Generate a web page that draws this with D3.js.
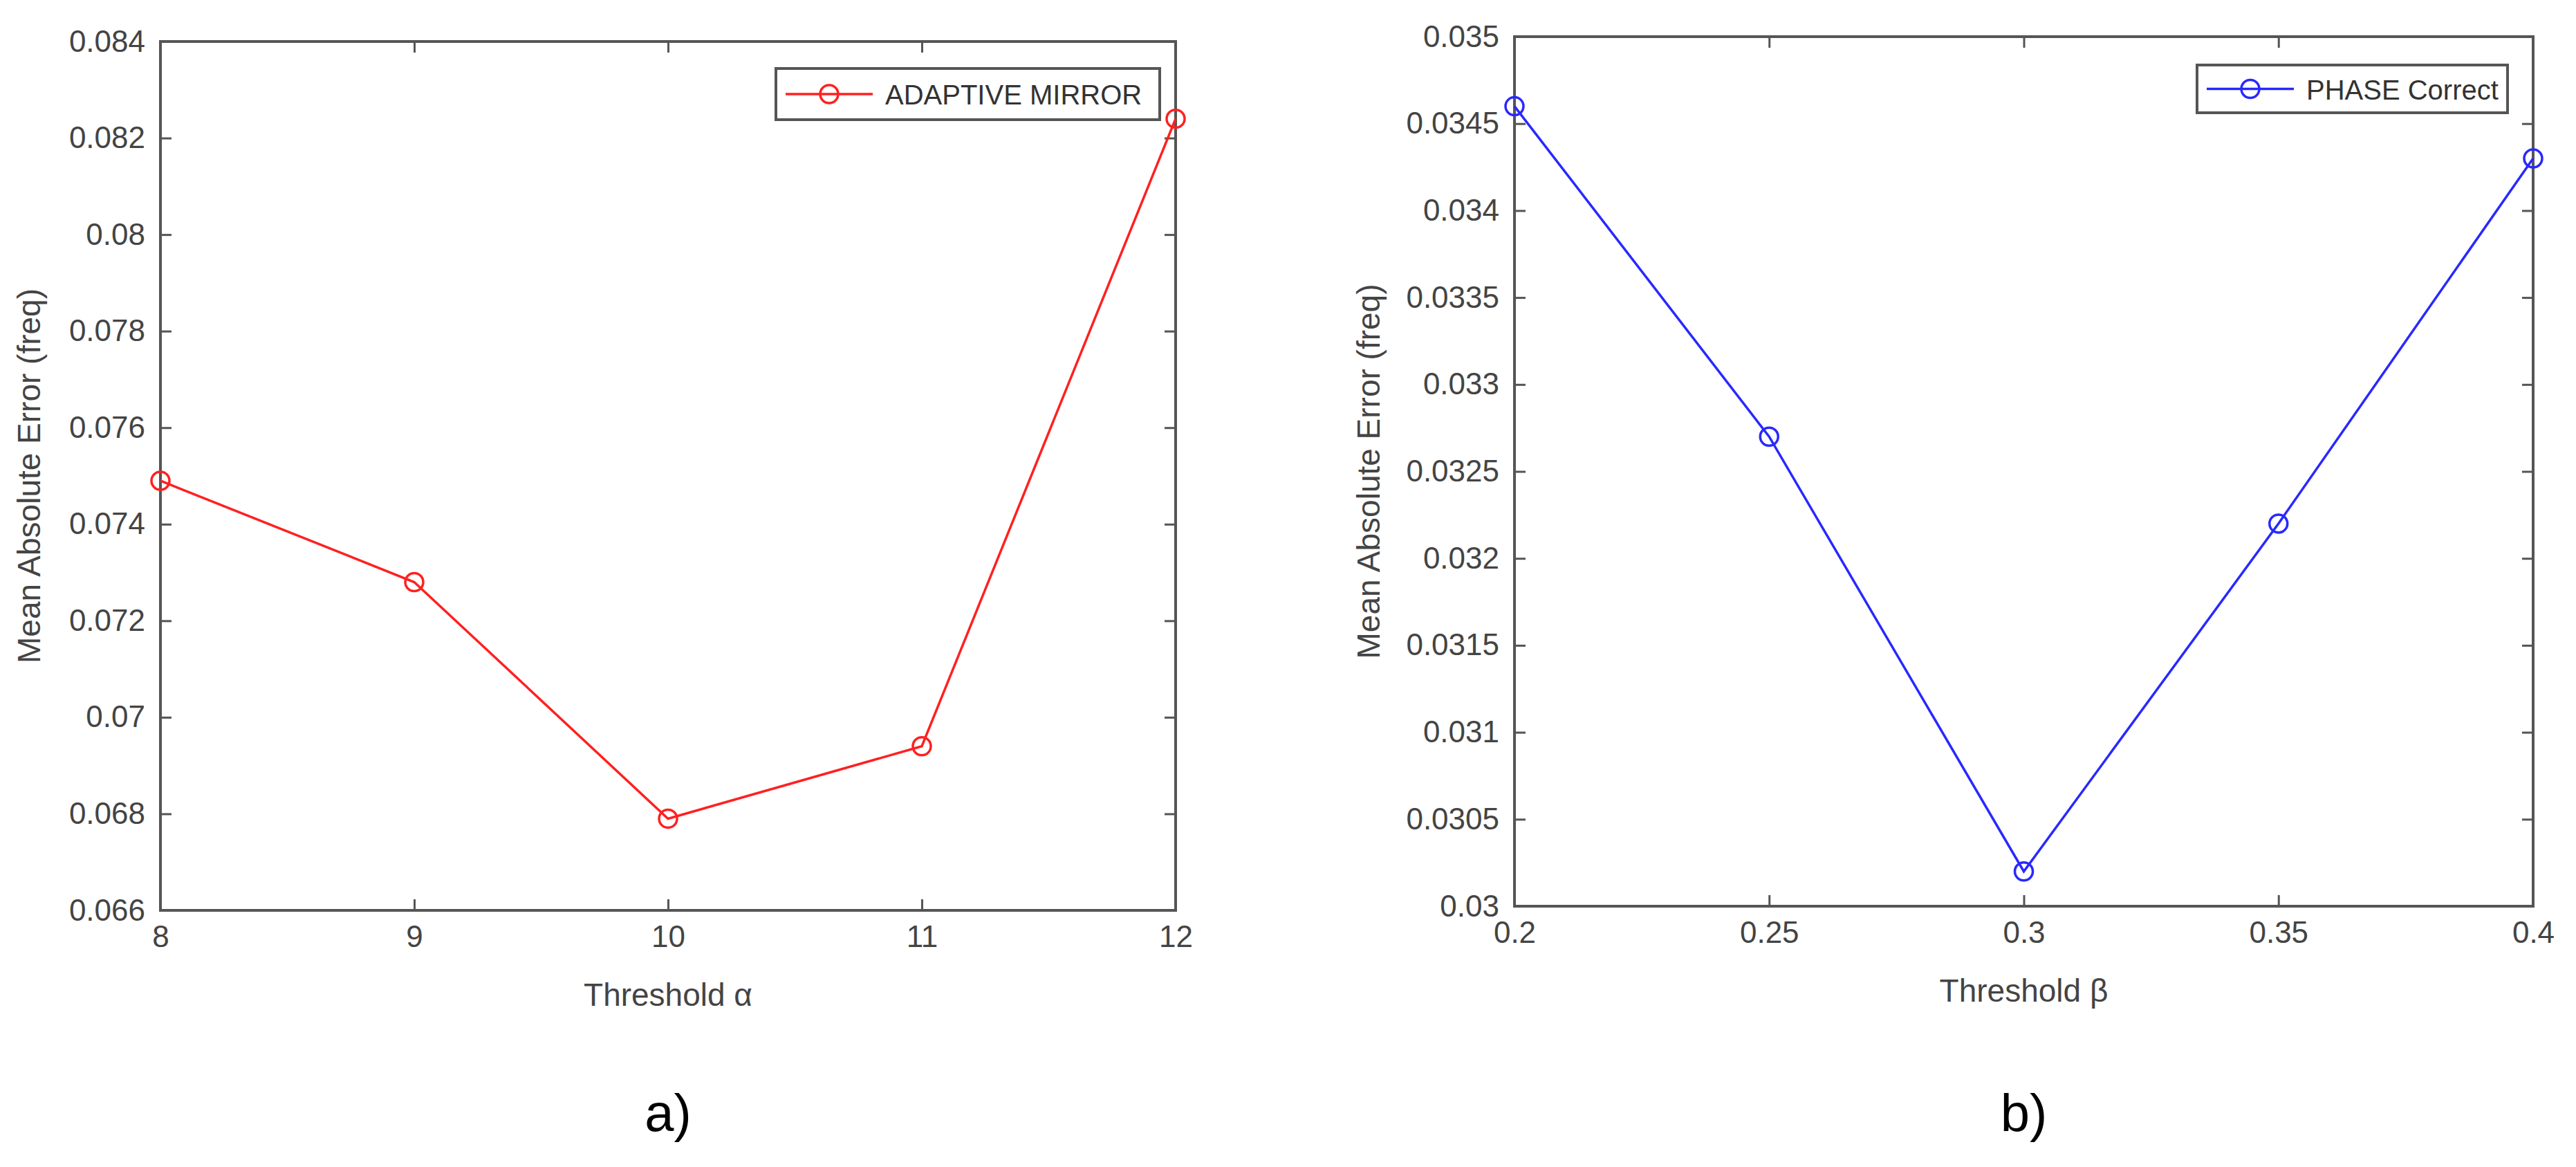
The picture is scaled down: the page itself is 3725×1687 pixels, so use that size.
<!DOCTYPE html>
<html><head><meta charset="utf-8">
<script src="https://cdn.jsdelivr.net/npm/d3@7"></script>
<style>body{margin:0;background:#fff}text{font-family:"Liberation Sans",Arial,sans-serif}</style>
</head><body>
<svg id="c" width="3725" height="1687"></svg>
<script>
const alphaX = [8, 9, 10, 11, 12];
const mirrorY = [0.0749, 0.0728, 0.0679, 0.0694, 0.0824];
const alphaYTicks = [0.066, 0.068, 0.07, 0.072, 0.074, 0.076, 0.078, 0.08, 0.082, 0.084];
const betaX = [0.2, 0.25, 0.3, 0.35, 0.4];
const phaseY = [0.0346, 0.0327, 0.0302, 0.0322, 0.0343];
const betaYTicks = [0.03, 0.0305, 0.031, 0.0315, 0.032, 0.0325, 0.033, 0.0335, 0.034, 0.0345, 0.035];

const svg = d3.select("#c");
function panel(o){
  const x = d3.scaleLinear().domain(o.xd).range([o.l, o.r]);
  const y = d3.scaleLinear().domain(o.yd).range([o.b, o.t]);
  const g = svg.append("g");
  const ax = "#555", tc = "#444", fs = 44;
  // inward ticks on all sides
  const tk = 16;
  g.append("g").attr("transform",`translate(0,${o.b})`).call(d3.axisBottom(x).tickValues(o.xt).tickSize(-tk).tickPadding(22).tickFormat(d=>String(+d.toFixed(4))))
   .call(s=>{s.select(".domain").remove();s.selectAll("line").attr("stroke",ax).attr("stroke-width",3);s.selectAll("text").attr("fill",tc).style("font-size",fs+"px");});
  g.append("g").attr("transform",`translate(0,${o.t})`).call(d3.axisTop(x).tickValues(o.xt).tickSize(-tk).tickFormat(""))
   .call(s=>{s.select(".domain").remove();s.selectAll("line").attr("stroke",ax).attr("stroke-width",3);});
  g.append("g").attr("transform",`translate(${o.l},0)`).call(d3.axisLeft(y).tickValues(o.yt).tickSize(-tk).tickPadding(22).tickFormat(d=>String(+d.toFixed(5))))
   .call(s=>{s.select(".domain").remove();s.selectAll("line").attr("stroke",ax).attr("stroke-width",3);s.selectAll("text").attr("fill",tc).style("font-size",fs+"px");});
  g.append("g").attr("transform",`translate(${o.r},0)`).call(d3.axisRight(y).tickValues(o.yt).tickSize(-tk).tickFormat(""))
   .call(s=>{s.select(".domain").remove();s.selectAll("line").attr("stroke",ax).attr("stroke-width",3);});
  g.append("rect").attr("x",o.l).attr("y",o.t).attr("width",o.r-o.l).attr("height",o.b-o.t).attr("fill","none").attr("stroke",ax).attr("stroke-width",4);
  const pts = o.xs.map((v,i)=>[x(v), y(o.ys[i])]);
  g.append("path").attr("d", d3.line()(pts)).attr("fill","none").attr("stroke",o.col).attr("stroke-width",3.5);
  g.selectAll("circle.m").data(pts).join("circle").attr("cx",d=>d[0]).attr("cy",d=>d[1]).attr("r",13).attr("fill","none").attr("stroke",o.col).attr("stroke-width",3.5);
  g.append("text").attr("x",(o.l+o.r)/2).attr("y",o.b+138).attr("text-anchor","middle").attr("fill",tc).style("font-size","46px").text(o.xl);
  g.append("text").attr("transform",`translate(${o.yx},${(o.t+o.b)/2}) rotate(-90)`).attr("text-anchor","middle").attr("fill",tc).style("font-size","46px").text("Mean Absolute Error (freq)");
  g.append("text").attr("x",(o.l+o.r)/2).attr("y",1635).attr("text-anchor","middle").attr("fill","#000").style("font-size","76px").text(o.tag);
  // legend
  const L = o.leg;
  g.append("rect").attr("x",L[0]).attr("y",L[1]).attr("width",L[2]-L[0]).attr("height",L[3]-L[1]).attr("fill","#fff").attr("stroke","#555").attr("stroke-width",4);
  const my = (L[1]+L[3])/2;
  g.append("line").attr("x1",L[0]+14).attr("x2",L[0]+140).attr("y1",my).attr("y2",my).attr("stroke",o.col).attr("stroke-width",3.5);
  g.append("circle").attr("cx",L[0]+77).attr("cy",my).attr("r",13).attr("fill","none").attr("stroke",o.col).attr("stroke-width",3.5);
  g.append("text").attr("x",L[0]+158).attr("y",my+15).attr("fill","#333").style("font-size","40px").text(o.name);
}
panel({xd:[8,12],yd:[0.066,0.084],xt:alphaX,yt:alphaYTicks,xs:alphaX,ys:mirrorY,l:232,r:1700,t:60,b:1316,col:"#ff2020",xl:"Threshold α",yx:58,tag:"a)",leg:[1122,99,1677,173],name:"ADAPTIVE MIRROR"});
panel({xd:[0.2,0.4],yd:[0.03,0.035],xt:betaX,yt:betaYTicks,xs:betaX,ys:phaseY,l:2190,r:3663,t:53,b:1310,col:"#2828ff",xl:"Threshold β",yx:1995,tag:"b)",leg:[3177,94,3626,163],name:"PHASE Correct"});
</script>
</body></html>
